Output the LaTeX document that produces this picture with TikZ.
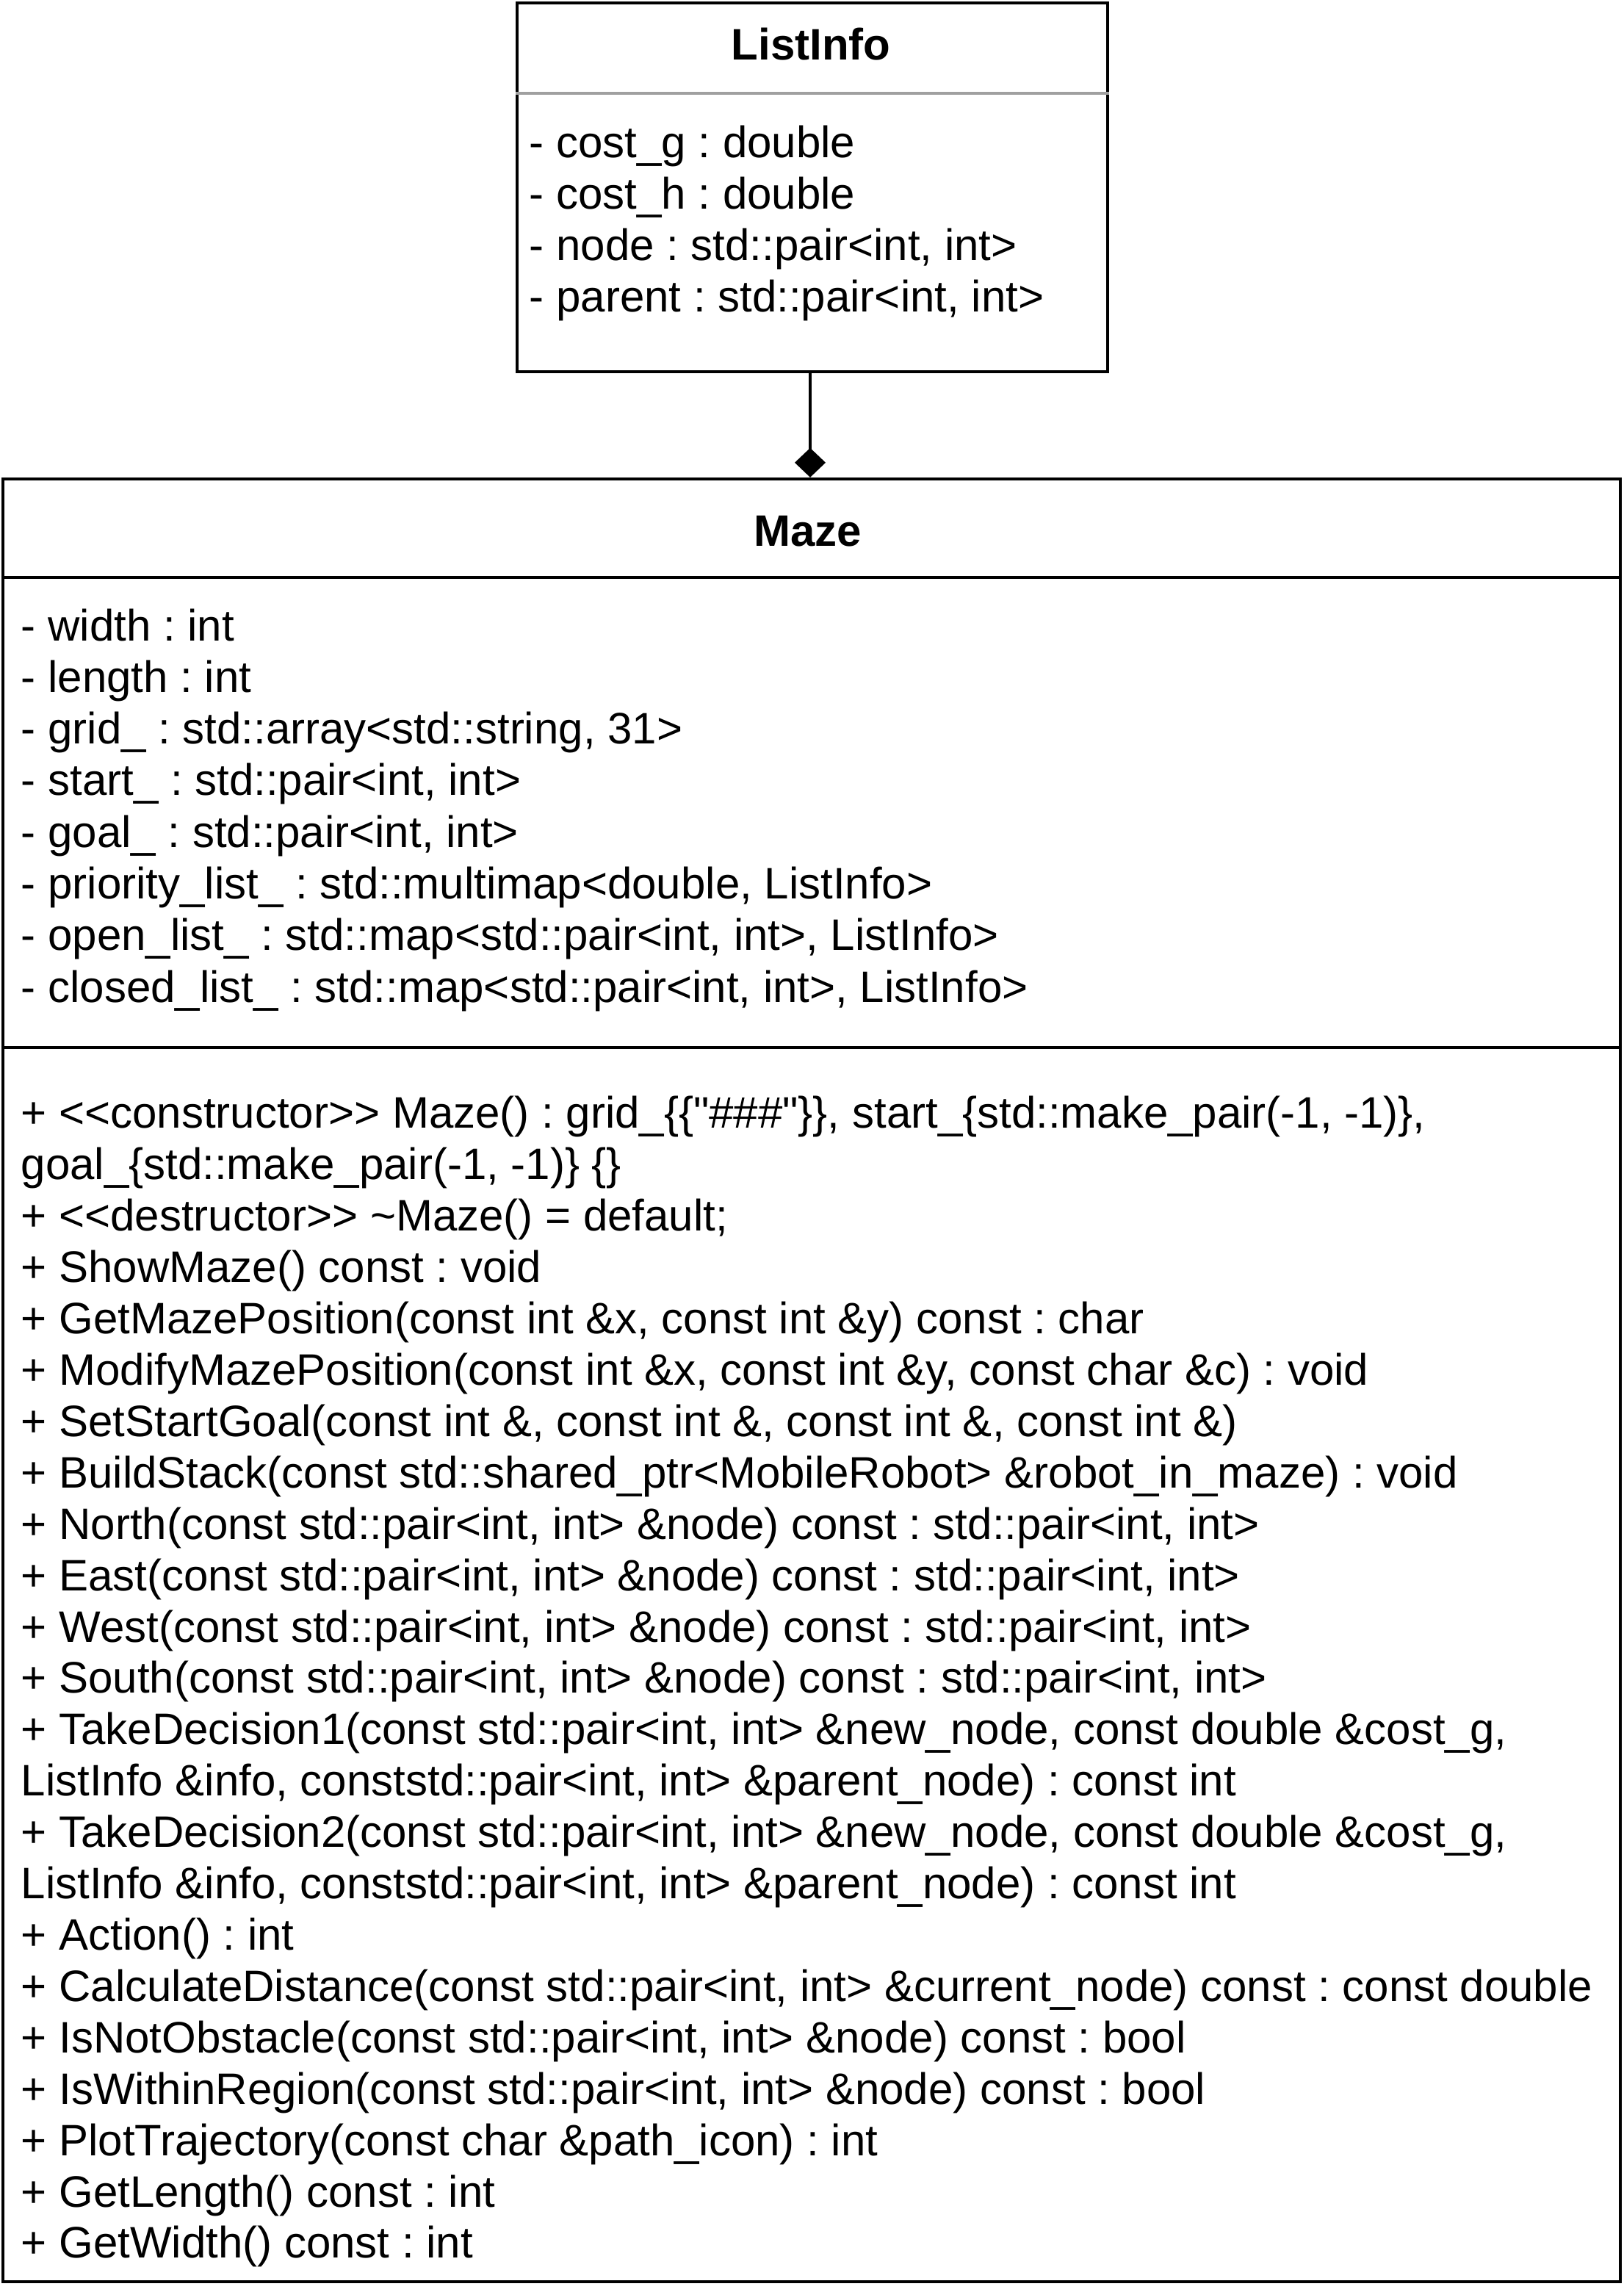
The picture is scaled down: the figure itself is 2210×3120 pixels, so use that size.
\documentclass[tikz,border=0pt]{standalone}
\usepackage{fontspec}
\setmainfont{Liberation Sans}[Ligatures=TeXOff]
\usetikzlibrary{arrows.meta}
\definecolor{sepgray}{RGB}{160,160,160}
\frenchspacing
\begin{document}
\begin{tikzpicture}[x=0.25pt,y=-0.25pt,
  box/.style={draw=black,line width=1.125pt,rectangle,inner sep=0pt,fill=white},
  txt/.style={anchor=base west,inner sep=0pt,font=\fontsize{15}{18}\selectfont\frenchspacing},
  ttl/.style={anchor=base,inner sep=0pt,font=\fontsize{15}{18}\selectfont\bfseries},
  sep/.style={line width=1.125pt},
  conn/.style={line width=1.125pt,-{Diamond[length=10pt,width=10.5pt]}}]
\useasboundingbox[fill=white] (0,0) rectangle (2210,3120);
% ListInfo
\node[box,minimum width=201pt,minimum height=125.5pt] (li) at (1106,255) {};
\draw[line width=1pt,draw=sepgray] (li.west |- 0,127) coordinate (lis1) -- (li.east |- 0,127) coordinate (lis2);
\node[ttl] (lit) at (1104,81) {ListInfo};
\node[txt] (la1) at (720,214) {- cost\_g : double};
\node[txt] (la2) at (720,284) {- cost\_h : double};
\node[txt] (la3) at (720,354) {- node : std::pair<int, int>};
\node[txt] (la4) at (720,424) {- parent : std::pair<int, int>};
% Maze
\node[box,minimum width=550.5pt,minimum height=613.5pt] (mz) at (1105,1879) {};
\draw[sep] (mz.west |- 0,786) coordinate (ms1) -- (mz.east |- 0,786) coordinate (ms2);
\draw[sep] (mz.west |- 0,1426) coordinate (ms3) -- (mz.east |- 0,1426) coordinate (ms4);
\node[ttl] (mzt) at (1100,743) {Maze};
\node[txt] (a1) at (28,872) {- width : int};
\node[txt] (a2) at (28,942.3) {- length : int};
\node[txt] (a3) at (28,1012.6) {- grid\_ : std::array<std::string, 31>};
\node[txt] (a4) at (28,1082.9) {- start\_ : std::pair<int, int>};
\node[txt] (a5) at (28,1153.2) {- goal\_ : std::pair<int, int>};
\node[txt] (a6) at (28,1223.5) {- priority\_list\_ : std::multimap<double, ListInfo>};
\node[txt] (a7) at (28,1293.8) {- open\_list\_ : std::map<std::pair<int, int>, ListInfo>};
\node[txt] (a8) at (28,1364.1) {- closed\_list\_ : std::map<std::pair<int, int>, ListInfo>};
\node[txt] (m1) at (28,1535) {+ <\kern0pt<constructor>\kern0pt> Maze() : grid\_\{\{"\#\#\#"\}\}, start\_\{std::make\_pair(-1, -1)\},};
\node[txt] (m2) at (28,1605) {goal\_\{std::make\_pair(-1, -1)\} \{\}};
\node[txt] (m3) at (28,1675) {+ <\kern0pt<destructor>\kern0pt> \textasciitilde Maze() = default;};
\node[txt] (m4) at (28,1745) {+ ShowMaze() const : void};
\node[txt] (m5) at (28,1815) {+ GetMazePosition(const int \&x, const int \&y) const : char};
\node[txt] (m6) at (28,1885) {+ ModifyMazePosition(const int \&x, const int \&y, const char \&c) : void};
\node[txt] (m7) at (28,1955) {+ SetStartGoal(const int \&, const int \&, const int \&, const int \&)};
\node[txt] (m8) at (28,2025) {+ BuildStack(const std::shared\_ptr<MobileRobot> \&robot\_in\_maze) : void};
\node[txt] (m9) at (28,2095) {+ North(const std::pair<int, int> \&node) const : std::pair<int, int>};
\node[txt] (m10) at (28,2165) {+ East(const std::pair<int, int> \&node) const : std::pair<int, int>};
\node[txt] (m11) at (28,2235) {+ West(const std::pair<int, int> \&node) const : std::pair<int, int>};
\node[txt] (m12) at (28,2304.5) {+ South(const std::pair<int, int> \&node) const : std::pair<int, int>};
\node[txt] (m13) at (28,2374.4) {+ TakeDecision1(const std::pair<int, int> \&new\_node, const double \&cost\_g,};
\node[txt] (m14) at (28,2444.4) {ListInfo \&info, conststd::pair<int, int> \&parent\_node) : const int};
\node[txt] (m15) at (28,2514.3) {+ TakeDecision2(const std::pair<int, int> \&new\_node, const double \&cost\_g,};
\node[txt] (m16) at (28,2584.3) {ListInfo \&info, conststd::pair<int, int> \&parent\_node) : const int};
\node[txt] (m17) at (28,2654.2) {+ Action() : int};
\node[txt] (m18) at (28,2724.2) {+ CalculateDistance(const std::pair<int, int> \&current\_node) const : const double};
\node[txt] (m19) at (28,2794.1) {+ IsNotObstacle(const std::pair<int, int> \&node) const : bool};
\node[txt] (m20) at (28,2864.1) {+ IsWithinRegion(const std::pair<int, int> \&node) const : bool};
\node[txt] (m21) at (28,2934) {+ PlotTrajectory(const char \&path\_icon) : int};
\node[txt] (m22) at (28,3004) {+ GetLength() const : int};
\node[txt] (m23) at (28,3073.9) {+ GetWidth() const : int};
% composition
\coordinate (ctop) at (1103,506);
\coordinate (cbot) at (1103,652);
\draw[conn] (li.south -| ctop) -- (mz.north -| cbot);
\end{tikzpicture}
\end{document}
